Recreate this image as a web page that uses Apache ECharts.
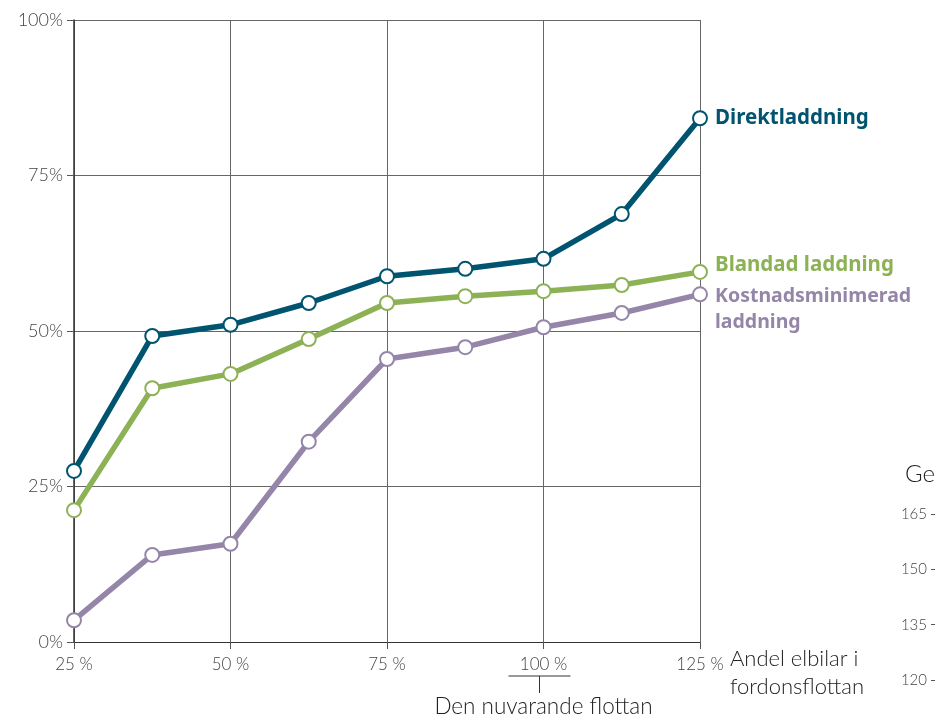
<!DOCTYPE html>
<html>
<head>
<meta charset="utf-8">
<script src="https://cdn.jsdelivr.net/npm/echarts@6/dist/echarts.min.js"></script>
<style>
  html, body { margin: 0; padding: 0; background: #fff; }
  #chart { width: 936px; height: 728px; }
</style>
</head>
<body>
<div id="chart"></div>
<script>
// Andel elbilar i fordonsflottan (%), x positions of the points
const shares = [25, 37.5, 50, 62.5, 75, 87.5, 100, 112.5, 125];
const xTicks = [25, 50, 75, 100, 125];
const yTicks = [0, 25, 50, 75, 100];

// Share of charging need covered (%), per charging strategy
const direktladdning = [27.5, 49.2, 51.0, 54.5, 58.8, 60.0, 61.6, 68.8, 84.2];
const blandadLaddning = [21.2, 40.8, 43.1, 48.7, 54.5, 55.6, 56.4, 57.4, 59.5];
const kostnadsminimerad = [3.5, 14.0, 15.8, 32.2, 45.5, 47.4, 50.6, 52.9, 55.9];

// Neighbouring panel axis (partly visible at the right edge)
const sideTicks = [120, 135, 150, 165];

const currentFleet = 100;

const lightFont = 'Lato';
const boldFont = '"Noto Sans"';

const chart = echarts.init(document.getElementById('chart'));

function pairs(vals) {
  return shares.map((x, i) => [x, vals[i]]);
}

function lineSeries(name, label, color, vals, labelOffset, fontSize) {
  return {
    type: 'line',
    name: name,
    xAxisIndex: 0,
    yAxisIndex: 0,
    data: pairs(vals),
    symbol: 'circle',
    symbolSize: 14,
    showAllSymbol: true,
    lineStyle: { color: color, width: 5.5 },
    itemStyle: { color: '#fff', borderColor: color, borderWidth: 2 },
    emphasis: { disabled: true },
    silent: true,
    z: 3,
    endLabel: {
      show: true,
      formatter: label,
      color: color,
      fontFamily: boldFont,
      fontWeight: 'bold',
      fontSize: fontSize,
      lineHeight: 26,
      distance: 15,
      offset: labelOffset
    }
  };
}

const option = {
  animation: false,
  backgroundColor: '#fff',
  grid: [
    { left: 74, top: 20, width: 626, height: 622, containLabel: false },
    { left: 935, top: 514, width: 200, height: 166, containLabel: false }
  ],
  xAxis: [
    {
      type: 'value',
      gridIndex: 0,
      min: 25,
      max: 125,
      interval: 25,
      name: 'Andel elbilar i\nfordonsflottan',
      nameLocation: 'end',
      nameGap: 30,
      nameTextStyle: {
        fontFamily: lightFont,
        fontWeight: 300,
        fontSize: 22,
        color: '#222',
        align: 'left',
        verticalAlign: 'top',
        lineHeight: 28,
        padding: [3, 0, 0, 0]
      },
      axisLine: { show: true, onZero: false, lineStyle: { color: '#333', width: 1.2 } },
      axisTick: { show: true, length: 7, lineStyle: { color: '#555' } },
      axisLabel: {
        margin: 14,
        fontFamily: lightFont,
        fontWeight: 300,
        fontSize: 17,
        color: '#444',
        formatter: v => xTicks.includes(v) ? v + ' %' : ''
      },
      splitLine: { show: true, lineStyle: { color: '#666', width: 1 } }
    },
    {
      type: 'value',
      gridIndex: 1,
      show: false,
      min: 0,
      max: 1
    }
  ],
  yAxis: [
    {
      type: 'value',
      gridIndex: 0,
      min: 0,
      max: 100,
      interval: 25,
      axisLine: { show: true, lineStyle: { color: '#333', width: 1.5 } },
      axisTick: { show: true, length: 7, lineStyle: { color: '#555' } },
      axisLabel: {
        margin: 11,
        fontFamily: lightFont,
        fontWeight: 300,
        fontSize: 18,
        color: '#444',
        formatter: v => yTicks.includes(v) ? v + '%' : ''
      },
      splitLine: { show: true, lineStyle: { color: '#666', width: 1 } }
    },
    {
      type: 'value',
      gridIndex: 1,
      min: 120,
      max: 165,
      interval: 15,
      name: 'Ge',
      nameLocation: 'end',
      nameGap: 28,
      nameTextStyle: {
        fontFamily: lightFont,
        fontWeight: 300,
        fontSize: 24,
        color: '#222',
        align: 'right',
        padding: [0, 0, 0, 0]
      },
      axisLine: { show: false },
      axisTick: { show: true, length: 4, lineStyle: { color: '#555' } },
      axisLabel: {
        margin: 8,
        fontFamily: lightFont,
        fontWeight: 300,
        fontSize: 15,
        color: '#444',
        formatter: v => sideTicks.includes(v) ? String(v) : ''
      },
      splitLine: { show: false }
    }
  ],
  series: [
    lineSeries('Direktladdning', 'Direktladdning', '#00546f', direktladdning, [0, 0], 20.5),
    lineSeries('Blandad laddning', 'Blandad laddning', '#8db256', blandadLaddning, [0, -7], 20.5),
    lineSeries('Kostnadsminimerad laddning', 'Kostnadsminimerad\nladdning', '#9586a9', kostnadsminimerad, [0, 15], 19.5),
    { type: 'line', xAxisIndex: 1, yAxisIndex: 1, data: [], silent: true }
  ]
};

chart.setOption(option);

// Bracket marking today's fleet size under the 100 % tick
const px = chart.convertToPixel({ xAxisIndex: 0, yAxisIndex: 0 }, [currentFleet, 0]);
chart.setOption({
  graphic: [
    {
      type: 'line',
      shape: { x1: px[0] - 35, y1: px[1] + 34, x2: px[0] + 27, y2: px[1] + 34 },
      style: { stroke: '#777', lineWidth: 1.5 },
      silent: true
    },
    {
      type: 'line',
      shape: { x1: px[0] - 4, y1: px[1] + 34, x2: px[0] - 4, y2: px[1] + 51 },
      style: { stroke: '#333', lineWidth: 1 },
      silent: true
    },
    {
      type: 'text',
      x: px[0],
      y: px[1] + 65,
      style: {
        text: 'Den nuvarande flottan',
        fontFamily: lightFont,
        fontWeight: 300,
        fontSize: 22.5,
        fill: '#222',
        align: 'center',
        verticalAlign: 'middle'
      },
      silent: true
    }
  ]
});
</script>
</body>
</html>
